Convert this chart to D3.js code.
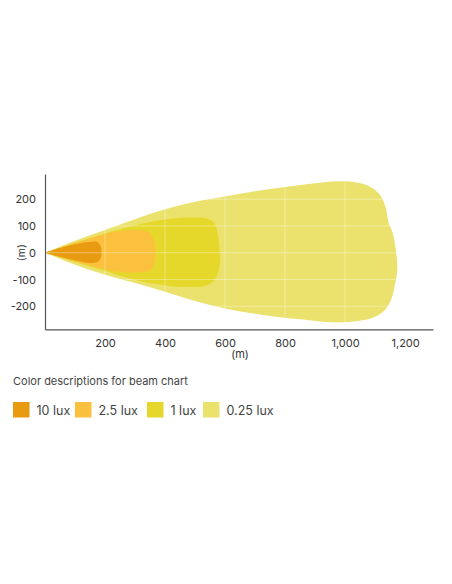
<!DOCTYPE html>
<html>
<head>
<meta charset="utf-8">
<script src="https://cdn.jsdelivr.net/npm/d3@7"></script>
<style>
  html, body { margin: 0; padding: 0; background: #fff; }
  svg { display: block; font-family: Inter, "Open Sans", sans-serif; }
</style>
</head>
<body>
<svg id="chart" width="452" height="584"></svg>
<script>
// ---- data (metres) ----
const xTicks = [200, 400, 600, 800, 1000, 1200];
const yTicks = [-200, -100, 0, 100, 200];
const legendLabels = ["10 lux", "2.5 lux", "1 lux", "0.25 lux"];
const legendColors = ["#e89b10", "#fbc03d", "#e6d82b", "#ebe26e"];

const lux025 = [[0,0],[100,45],[200,85],[300,125],[400,162],[500,190],[600,210],[700,230],[800,245],[900,259],[960,266],[1020,265],[1075,251],[1115,218],[1135,170],[1145,112],[1158,76],[1168,20],[1174,-40],[1173,-78],[1166,-121],[1155,-170],[1130,-218],[1085,-246],[1020,-258],[950,-260],[880,-252],[800,-243],[700,-228],[600,-208],[500,-180],[400,-146],[300,-113],[200,-82],[100,-45],[0,0]];
const lux1 = [[0,0],[100,38],[200,72],[300,103],[400,124],[500,132],[540,128],[565,110],[577,62],[582,5],[584,-27],[578,-70],[565,-102],[540,-122],[500,-128],[400,-122],[300,-102],[200,-68],[100,-35],[0,0]];
const lux25 = [[0,0],[100,36],[200,70],[260,82],[320,84],[346,75],[361,50],[368,8],[366,-30],[357,-58],[338,-70],[300,-74],[250,-72],[200,-62],[100,-32],[0,0]];
const lux10 = [[0,0],[50,18],[100,32],[150,40],[174,40],[185,25],[188,0],[185,-22],[175,-35],[150,-38],[100,-29],[50,-15],[0,0]];
const layers = [lux025, lux1, lux25, lux10];
const layerColors = ["#ebe26e", "#e6d82b", "#fbc03d", "#e89b10"];

// ---- layout ----
const svg = d3.select("#chart");
const x = d3.scaleLinear().domain([0, 1293]).range([45, 433]);
const y = d3.scaleLinear().domain([-286, 294]).range([329.3, 174]);

const line = d3.line().x(d => x(d[0])).y(d => y(d[1])).curve(d3.curveCatmullRom.alpha(0.5));

svg.append("g").selectAll("path").data(layers).join("path")
  .attr("d", d => line(d) + "Z")
  .attr("fill", (d, i) => layerColors[i]);

// grid (faint white lines over the beams)
const grid = svg.append("g").attr("stroke", "#fff").attr("stroke-opacity", 0.35).attr("stroke-width", 1);
grid.selectAll("line.v").data(xTicks).join("line").attr("class", "v")
  .attr("x1", d => x(d)).attr("x2", d => x(d)).attr("y1", y.range()[1]).attr("y2", y.range()[0]);
grid.selectAll("line.h").data(yTicks).join("line").attr("class", "h")
  .attr("x1", x.range()[0]).attr("x2", x.range()[1]).attr("y1", d => y(d)).attr("y2", d => y(d));

// axes
const xAxis = d3.axisBottom(x).tickValues(xTicks).tickFormat(d3.format(",")).tickSize(0).tickSizeOuter(0).tickPadding(10);
const yAxis = d3.axisLeft(y).tickValues(yTicks).tickFormat(d => String(d)).tickSize(0).tickSizeOuter(0).tickPadding(9);

const gx = svg.append("g").attr("transform", `translate(0,${y.range()[0]})`).call(xAxis);
const gy = svg.append("g").attr("transform", `translate(${x.range()[0]},0)`).call(yAxis);
[gx, gy].forEach(g => {
  g.select(".domain").attr("stroke", "#555").attr("stroke-width", 1.2);
  g.selectAll("text").attr("fill", "#333").style("font-size", "11px").style("font-family", "Inter, 'Open Sans', sans-serif");
});

svg.append("text").attr("x", x(650)).attr("y", 358).attr("text-anchor", "middle")
  .attr("fill", "#333").style("font-size", "11px").text("(m)");
svg.append("text").attr("transform", `translate(25,${y(0)}) rotate(-90)`).attr("text-anchor", "middle")
  .attr("fill", "#333").style("font-size", "10.5px").text("(m)");

// legend
svg.append("text").attr("x", 13).attr("y", 385).attr("fill", "#444").style("font-size", "11px")
  .text("Color descriptions for beam chart");
const legX = [13, 75, 147, 203];
const lg = svg.append("g").selectAll("g").data(legendLabels).join("g")
  .attr("transform", (d, i) => `translate(${legX[i]},402)`);
lg.append("rect").attr("width", 16.5).attr("height", 15.5).attr("fill", (d, i) => legendColors[i]);
lg.append("text").attr("x", 23.5).attr("y", 12.5).attr("fill", "#444").style("font-size", "12.5px").text(d => d);
</script>
</body>
</html>
